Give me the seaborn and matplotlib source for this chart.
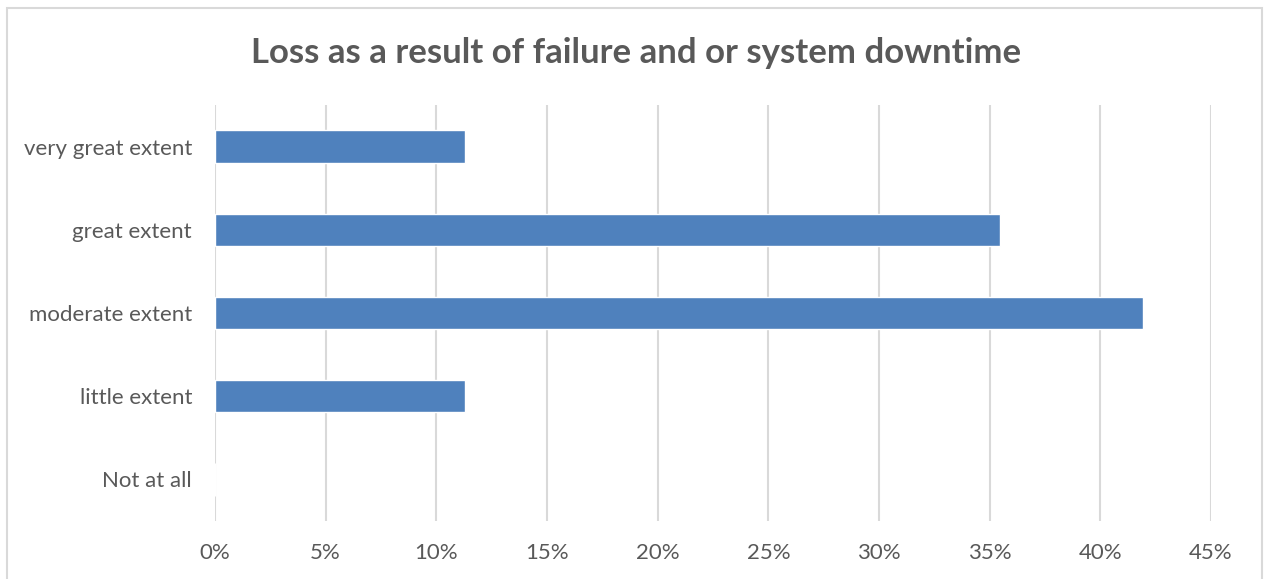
import matplotlib
matplotlib.use("Agg")
import matplotlib.pyplot as plt
import seaborn as sns
import pandas as pd
from matplotlib.patches import Rectangle
from matplotlib.ticker import FuncFormatter, MultipleLocator

categories = ["very great extent", "great extent", "moderate extent", "little extent", "Not at all"]
percent = [11.29, 35.48, 41.94, 11.29, 0.0]

df = pd.DataFrame({"category": categories, "percent": percent})

sns.set_style("white")
plt.rcParams["font.family"] = ["Lato", "DejaVu Sans"]

fig = plt.figure(figsize=(12.69, 5.79), dpi=100)
ax = fig.add_axes([0.1694, 0.1002, 0.7849, 0.7185])

sns.barplot(data=df, x="percent", y="category", order=categories,
            color="#4f81bd", saturation=1, width=0.39, ax=ax)

ax.set_xlim(0, 45)
ax.xaxis.set_major_locator(MultipleLocator(5))
ax.xaxis.set_major_formatter(FuncFormatter(lambda v, p: f"{v:.0f}%"))
ax.grid(True, axis="x", color="#d9d9d9", linewidth=1.5)
ax.set_axisbelow(True)
for s in ax.spines.values():
    s.set_visible(False)
ax.set_xlabel("")
ax.set_ylabel("")
ax.tick_params(axis="both", length=0, labelsize=16, labelcolor="#595959")
ax.tick_params(axis="x", pad=15.5)
ax.tick_params(axis="y", pad=16.5)

fig.text(0.501, 0.908, "Loss as a result of failure and or system downtime",
         ha="center", va="center", fontsize=25, fontweight="bold", color="#595959")

fig.patches.append(Rectangle((7 / 1269, -0.01), 1255 / 1269, 1 - 8 / 579 + 0.01,
                             transform=fig.transFigure, fill=False,
                             edgecolor="#d9d9d9", linewidth=1.5))

fig.savefig("out.png", dpi=100)
